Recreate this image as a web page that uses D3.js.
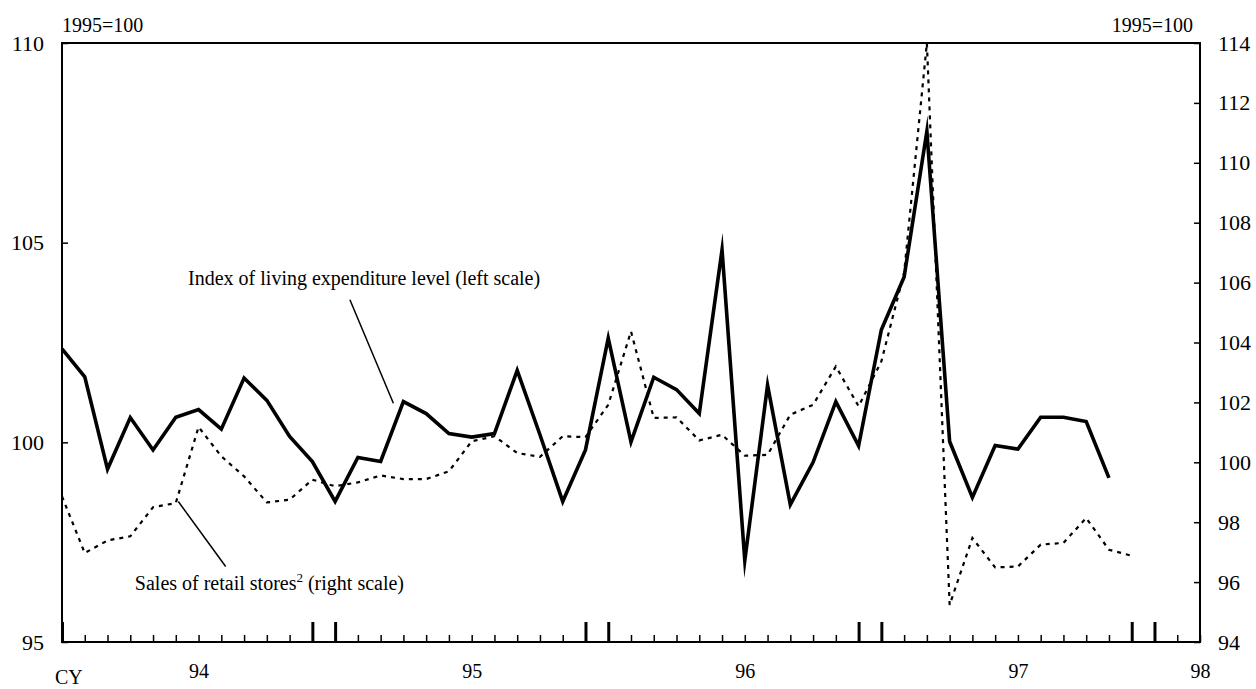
<!DOCTYPE html>
<html>
<head>
  <meta charset="utf-8">
  <title>Living expenditure and retail sales</title>
  <script src="https://d3js.org/d3.v7.min.js"></script>
  <style>
    body { margin: 0; background: #fff; }
    svg { display: block; font-family: "Liberation Serif", "Times New Roman", serif; }
    .axis path, .axis line { stroke: #000; }
    .axis text { fill: #000; }
  </style>
</head>
<body>
  <div id="root"></div>
  <script>
    // index of living expenditure level, monthly (left scale)
    var livingIndex = [102.34, 101.64, 99.33, 100.62, 99.81, 100.63, 100.82, 100.33, 101.61, 101.05,
      100.15, 99.52, 98.52, 99.62, 99.52, 101.02, 100.72, 100.22, 100.13, 100.22,
      101.8, 100.19, 98.52, 99.81, 102.61, 100.01, 101.63, 101.32, 100.72, 104.82,
      97.04, 101.43, 98.44, 99.5, 101.02, 99.91, 102.82, 104.14, 107.79, 100.02,
      98.62, 99.92, 99.83, 100.63, 100.63, 100.52, 99.11];

    // sales of retail stores, monthly (right scale)
    var retailSales = [98.86, 96.97, 97.39, 97.53, 98.5, 98.64, 101.18, 100.2, 99.53, 98.66,
      98.75, 99.42, 99.2, 99.33, 99.56, 99.44, 99.44, 99.7, 100.7, 100.87,
      100.31, 100.18, 100.87, 100.84, 101.92, 104.37, 101.48, 101.5, 100.73, 100.92,
      100.22, 100.25, 101.59, 101.92, 103.2, 101.87, 103.37, 106.33, 114, 95.24,
      97.47, 96.49, 96.52, 97.25, 97.31, 98.14, 97.08, 96.88];

    var yearLabels = ["94", "95", "96", "97", "98"];
    var yearLabelMonths = [6, 18, 30, 42, 50];
    var tallTickMonths = [0, 11, 12, 23, 24, 35, 36, 47, 48];
    var leftTicks = [95, 100, 105, 110];
    var rightTicks = [94, 96, 98, 100, 102, 104, 106, 108, 110, 112, 114];

    var W = 1256, H = 689;
    var margin = {top: 43, right: 56, bottom: 47, left: 62};
    var FONT = "'Liberation Serif', 'Times New Roman', serif";

    var svg = d3.select("#root").append("svg")
      .attr("width", W).attr("height", H);

    var x = d3.scaleLinear().domain([0, 50]).range([margin.left, W - margin.right]);
    var yL = d3.scaleLinear().domain([95, 110]).range([H - margin.bottom, margin.top]);
    var yR = d3.scaleLinear().domain([94, 114]).range([H - margin.bottom, margin.top]);

    // replace d3's default axis font with the serif
    function serif(size) {
      return function(g) {
        g.attr("font-family", FONT).attr("font-size", size);
        g.select(".domain").remove();
      };
    }

    // month ticks (small, pointing up)
    svg.append("g").attr("class", "axis")
      .attr("transform", "translate(0," + (H - margin.bottom) + ")")
      .call(d3.axisBottom(x).tickValues(d3.range(0, 51)).tickSizeInner(-7).tickSizeOuter(0).tickFormat(""))
      .call(serif(20))
      .selectAll("line").attr("stroke-width", 1.5);

    // tall ticks
    svg.append("g").attr("class", "axis")
      .attr("transform", "translate(0," + (H - margin.bottom) + ")")
      .call(d3.axisBottom(x).tickValues(tallTickMonths).tickSizeInner(-20).tickSizeOuter(0).tickFormat(""))
      .call(serif(20))
      .selectAll("line").attr("stroke-width", 3);

    // year labels
    svg.append("g").attr("class", "axis")
      .attr("transform", "translate(0," + (H - margin.bottom) + ")")
      .call(d3.axisBottom(x).tickValues(yearLabelMonths).tickSize(0).tickPadding(22)
        .tickFormat((d, i) => yearLabels[i]))
      .call(serif(20));

    // left axis
    svg.append("g").attr("class", "axis")
      .attr("transform", "translate(" + margin.left + ",0)")
      .call(d3.axisLeft(yL).tickValues(leftTicks).tickSizeInner(-6).tickSizeOuter(0).tickPadding(18))
      .call(serif(22))
      .selectAll("line").attr("stroke-width", 1.5);

    // right axis
    svg.append("g").attr("class", "axis")
      .attr("transform", "translate(" + (W - margin.right) + ",0)")
      .call(d3.axisRight(yR).tickValues(rightTicks).tickSizeInner(-6).tickSizeOuter(0).tickPadding(18))
      .call(serif(22))
      .selectAll("line").attr("stroke-width", 1.5);

    // frame
    svg.append("rect")
      .attr("x", margin.left).attr("y", margin.top)
      .attr("width", W - margin.left - margin.right)
      .attr("height", H - margin.top - margin.bottom)
      .attr("fill", "none").attr("stroke", "#000").attr("stroke-width", 2);

    // base labels
    svg.append("text").attr("x", margin.left).attr("y", 32)
      .attr("font-size", 20).text("1995=100");
    svg.append("text").attr("x", 1193).attr("y", 32)
      .attr("font-size", 20).attr("text-anchor", "end").text("1995=100");
    svg.append("text").attr("x", 55).attr("y", 684)
      .attr("font-size", 20).text("CY");

    // lines
    var retailLine = d3.line().x((d, i) => x(i)).y(d => yR(d));
    var livingLine = d3.line().x((d, i) => x(i)).y(d => yL(d));

    svg.append("path").datum(retailSales)
      .attr("d", retailLine)
      .attr("fill", "none").attr("stroke", "#000")
      .attr("stroke-width", 2.2).attr("stroke-dasharray", "4,5");

    svg.append("path").datum(livingIndex)
      .attr("d", livingLine)
      .attr("fill", "none").attr("stroke", "#000")
      .attr("stroke-width", 3.6).attr("stroke-linejoin", "miter").attr("stroke-miterlimit", 10);

    // annotations (positions in data units)
    svg.append("line")
      .attr("x1", x(12.65)).attr("y1", yL(103.57))
      .attr("x2", x(14.56)).attr("y2", yL(100.98))
      .attr("stroke", "#000").attr("stroke-width", 1.5);
    svg.append("text")
      .attr("x", x(5.54)).attr("y", yL(103.95))
      .attr("font-size", 20)
      .text("Index of living expenditure level (left scale)");

    svg.append("line")
      .attr("x1", x(5.11)).attr("y1", yR(98.69))
      .attr("x2", x(7.19)).attr("y2", yR(96.52))
      .attr("stroke", "#000").attr("stroke-width", 1.5);
    var sales = svg.append("text")
      .attr("x", x(3.2)).attr("y", yR(95.74))
      .attr("font-size", 20);
    sales.append("tspan").text("Sales of retail stores");
    sales.append("tspan").attr("font-size", 13).attr("dy", -8).text("2");
    sales.append("tspan").attr("dy", 8).text(" (right scale)");
  </script>
</body>
</html>
